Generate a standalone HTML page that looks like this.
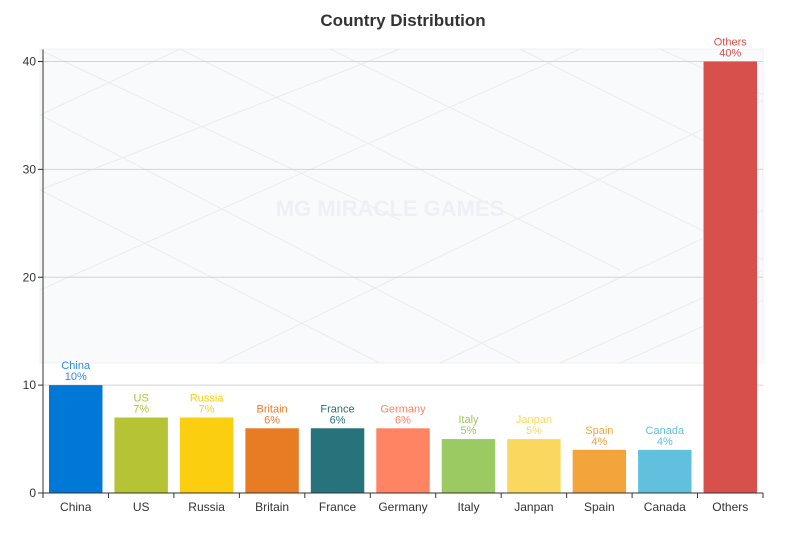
<!DOCTYPE html>
<html><head><meta charset="utf-8"><style>
body{margin:0;background:#fff;}
svg{display:block;font-family:"Liberation Sans","Microsoft YaHei",sans-serif;}
</style></head><body>
<svg id="chart" width="800" height="540">
<text x="403" y="26" text-anchor="middle" font-size="17" font-weight="bold" fill="#333">Country Distribution</text>
<g id="bg">
<rect x="40" y="49" width="723" height="314" fill="#f9fafc" stroke="#f0f0f0"/>
<g stroke="#ececec" stroke-width="1" fill="none">
<path d="M40 50 L400 220 M40 115 L520 363 M40 190 L380 363 M180 49 L620 270 M330 49 L763 260 M520 49 L763 170 M40 115 L180 49 M40 190 L400 49 M40 290 L580 49 M220 363 L763 100 M440 363 L763 210 M620 363 L763 300 M660 49 L763 95 M560 363 L763 270"/>
</g>
<text x="390" y="216" text-anchor="middle" font-size="22" font-weight="bold" fill="#edf0f4">MG MIRACLE GAMES</text>
</g>
<g id="grid"></g><g id="bars"></g><g id="axes"></g>
</svg>
<script>
const categories=["China","US","Russia","Britain","France","Germany","Italy","Janpan","Spain","Canada","Others"];
const values=[10,7,7,6,6,6,5,5,4,4,40];
const labels=["10%","7%","7%","6%","6%","6%","5%","5%","4%","4%","40%"];
const colors=["#0078d7","#b5c334","#fcce10","#e87c25","#27727b","#fe8463","#9bca63","#fad860","#f3a43b","#60c0dd","#d7504b"];
const labelColors=["#2b8ce0","#b5c334","#fcce10","#e87c25","#27727b","#fe8463","#9bca63","#fad860","#f3a43b","#60c0dd","#d7504b"];
const yTicks=[0,10,20,30,40];
const X0=43,X1=763,Y0=493,Y40=61.5;
const band=(X1-X0)/categories.length;
const y=v=>Y0-(v/40)*(Y0-Y40);
const xb=i=>X0+i*band;
const NS="http://www.w3.org/2000/svg";
function mk(tag,attrs,parent,text){const e=document.createElementNS(NS,tag);for(const k in attrs)e.setAttribute(k,attrs[k]);if(text!==undefined)e.textContent=text;document.getElementById(parent).appendChild(e);return e;}
yTicks.forEach(t=>{
  if(t>0){const g=mk("line",{x1:X0,x2:X1,y1:y(t),y2:y(t),stroke:"#d4d4d4"},"grid");
  
  }
  const tk=mk("line",{x1:X0-5,x2:X0,y1:y(t),y2:y(t),stroke:"#333"},"axes");
  
  
  const tl=mk("text",{x:X0-7,y:y(t)+4,"text-anchor":"end","font-size":"12",fill:"#333"},"axes",String(t));
  
  
});
categories.forEach((c,i)=>{
  const bx=xb(i)+6,bw=band-12;
  const r=mk("rect",{x:bx,y:y(values[i]),width:bw,height:Y0-y(values[i]),fill:colors[i]},"bars");
  
  
  const cx=xb(i)+band/2;
  const l1=mk("text",{x:cx,y:y(values[i])-16,"text-anchor":"middle","font-size":"11",fill:labelColors[i]},"bars",c);
  
  
  const l2=mk("text",{x:cx,y:y(values[i])-5,"text-anchor":"middle","font-size":"11",fill:labelColors[i]},"bars",labels[i]);
  
  
  const xl=mk("text",{x:cx,y:Y0+18,"text-anchor":"middle","font-size":"12",fill:"#333"},"axes",c);
  
  
});
for(let i=0;i<=categories.length;i++){
  const t=mk("line",{x1:xb(i),x2:xb(i),y1:Y0,y2:Y0+5,stroke:"#333"},"axes");
  
  
}
const ya=mk("line",{x1:X0,x2:X0,y1:Y40-12,y2:Y0,stroke:"#333"},"axes");


const xa=mk("line",{x1:X0,x2:X1,y1:Y0,y2:Y0,stroke:"#333"},"axes");


</script>
</body></html>
